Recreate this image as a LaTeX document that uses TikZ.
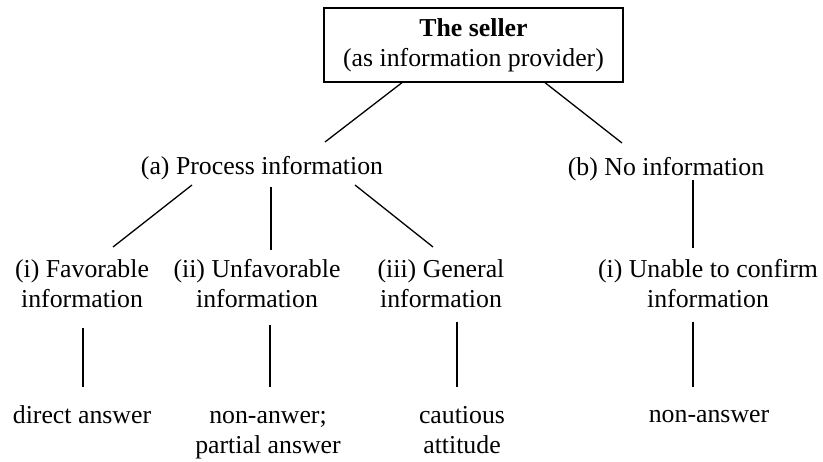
\documentclass[tikz,border=0pt]{standalone}
\usepackage{fontspec}
\setmainfont{Liberation Serif}

\tikzset{
    label/.style={inner sep=0pt, align=center, font=\fontsize{25.8}{30}\selectfont},
    topbox/.style={draw, line width=1.3pt, minimum width=299pt, minimum height=74pt, inner sep=0pt, align=center, font=\fontsize{25.8}{30}\selectfont},
    branch/.style={line width=1.3pt}
}

\begin{document}
\begin{tikzpicture}[x=1pt, y=-1pt]
        \useasboundingbox (0,0) rectangle (823,462);

        % Top box
        \node[topbox] (seller) at (473.5,45) {\textbf{The seller}\\(as information provider)};

        % Second level
        \node[label] (proc) at (262,168) {(a) Process information};
        \node[label] (noinf) at (666,169) {(b) No information};

        % Third level
        \node[label] (fav) at (82,284) {(i) Favorable\\information};
        \node[label] (unfav) at (257,284) {(ii) Unfavorable\\information};
        \node[label] (gen) at (441,284) {(iii) General\\information};
        \node[label] (unable) at (708,284) {(i) Unable to confirm\\information};

        % Answers
        \node[label] (direct) at (82,415) {direct answer};
        \node[label] (nonanw) at (268,435) {non-anwer;\\partial answer};
        \node[label] (caut) at (462,430) {cautious\\attitude};
        \node[label] (nonans) at (709,417) {non-answer};

        % Branches
        \draw[branch] ([shift={(-71.5,0)}]seller.south) -- ([shift={(63,-26)}]proc.center);
        \draw[branch] ([shift={(71.5,0)}]seller.south) -- ([shift={(-44,-26)}]noinf.center);
        \draw[branch] ([shift={(-70,17)}]proc.center) -- ([shift={(31,-37)}]fav.center);
        \draw[branch] ([shift={(9,19)}]proc.center) -- ([shift={(14,-34)}]unfav.center);
        \draw[branch] ([shift={(93,17)}]proc.center) -- ([shift={(-8,-37)}]gen.center);
        \draw[branch] ([shift={(27,11)}]noinf.center) -- ([shift={(-15,-36)}]unable.center);
        \draw[branch] ([shift={(1,44)}]fav.center) -- ([shift={(1,-28)}]direct.center);
        \draw[branch] ([shift={(13,41)}]unfav.center) -- ([shift={(2,-48)}]nonanw.center);
        \draw[branch] ([shift={(16,38)}]gen.center) -- ([shift={(-5,-43)}]caut.center);
        \draw[branch] ([shift={(-15,38)}]unable.center) -- ([shift={(-16,-30)}]nonans.center);
    \end{tikzpicture}
\end{document}
